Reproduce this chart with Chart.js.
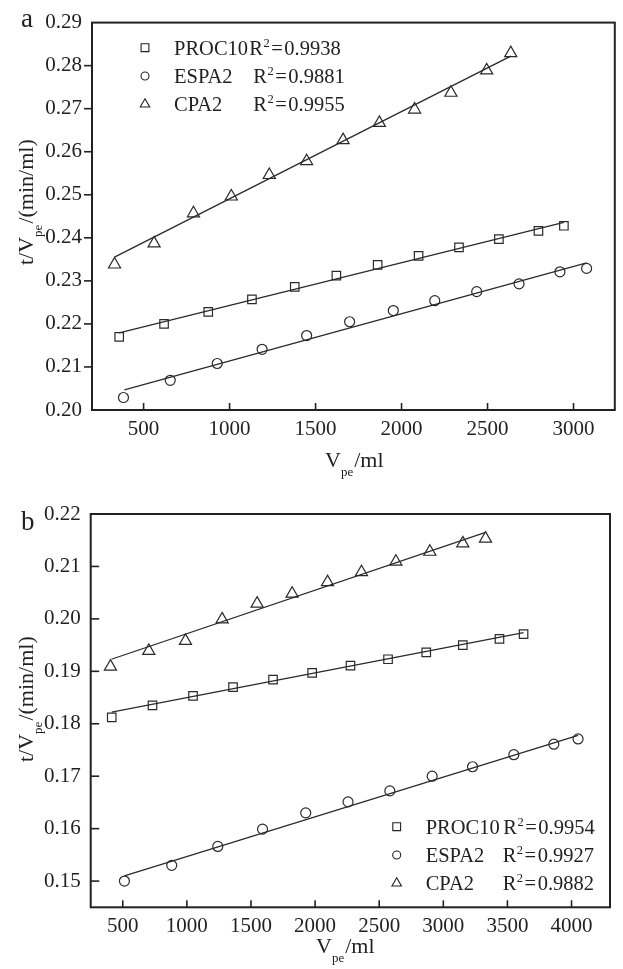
<!DOCTYPE html>
<html><head><meta charset="utf-8">
<script src="https://cdn.jsdelivr.net/npm/chart.js@4.4.1/dist/chart.umd.min.js"></script>
<style>
html,body{margin:0;padding:0;background:#fff;}
#wrap{position:relative;width:623px;height:969px;overflow:hidden;background:#fff;}
canvas{position:absolute;left:0;}
#ca{top:0;} #cb{top:485px;}
</style></head><body>
<div id="wrap"><canvas id="ca" width="623" height="485"></canvas><canvas id="cb" width="623" height="484"></canvas></div>
<script>
// ---------- Panel a data ----------
const procA_x = [358, 619, 876, 1130, 1379, 1621, 1861, 2099, 2334, 2566, 2796, 2944];
const procA_y = [0.2170, 0.2200, 0.2228, 0.2257, 0.2286, 0.2312, 0.2337, 0.2358, 0.2378, 0.2397, 0.2416, 0.2428];
const espaA_x = [383, 655, 928, 1189, 1448, 1698, 1952, 2193, 2437, 2683, 2921, 3076];
const espaA_y = [0.2029, 0.2069, 0.2108, 0.2141, 0.2173, 0.2205, 0.2231, 0.2254, 0.2275, 0.2293, 0.2321, 0.2329];
const cpaA_x = [331, 561, 790, 1010, 1231, 1448, 1660, 1871, 2076, 2287, 2495, 2635];
const cpaA_y = [0.2338, 0.2387, 0.2457, 0.2496, 0.2546, 0.2578, 0.2627, 0.2667, 0.2698, 0.2737, 0.2789, 0.2829];
const procA_fitX = [358, 2944], procA_fitY = [0.2179, 0.2436];
const espaA_fitX = [388, 3076], espaA_fitY = [0.2047, 0.2342];
const cpaA_fitX = [331, 2635], cpaA_fitY = [0.2355, 0.2822];
const xTicksA = [500, 1000, 1500, 2000, 2500, 3000];
const yTicksA = [0.20, 0.21, 0.22, 0.23, 0.24, 0.25, 0.26, 0.27, 0.28, 0.29];
const r2A = ['0.9938', '0.9881', '0.9955'];

// ---------- Panel b data ----------
const procB_x = [414, 732, 1048, 1360, 1672, 1977, 2276, 2569, 2867, 3152, 3438, 3626];
const procB_y = [0.1812, 0.1835, 0.1853, 0.1870, 0.1884, 0.1897, 0.1911, 0.1923, 0.1936, 0.1950, 0.1962, 0.1971];
const espaB_x = [513, 882, 1241, 1590, 1927, 2257, 2583, 2913, 3228, 3550, 3862, 4051];
const espaB_y = [0.1500, 0.1530, 0.1566, 0.1599, 0.1630, 0.1651, 0.1672, 0.1700, 0.1718, 0.1741, 0.1761, 0.1771];
const cpaB_x = [404, 703, 989, 1275, 1548, 1821, 2097, 2362, 2630, 2895, 3152, 3329];
const cpaB_y = [0.1909, 0.1939, 0.1958, 0.1999, 0.2029, 0.2048, 0.2070, 0.2089, 0.2109, 0.2128, 0.2144, 0.2153];
const procB_fitX = [414, 3626], procB_fitY = [0.1822, 0.1974];
const espaB_fitX = [513, 4051], espaB_fitY = [0.1510, 0.1778];
const cpaB_fitX = [412, 3329], cpaB_fitY = [0.1923, 0.2165];
const xTicksB = [500, 1000, 1500, 2000, 2500, 3000, 3500, 4000];
const yTicksB = [0.15, 0.16, 0.17, 0.18, 0.19, 0.20, 0.21, 0.22];
const r2B = ['0.9954', '0.9927', '0.9882'];

const seriesNames = ['PROC10', 'ESPA2', 'CPA2'];
const seriesStyles = ['rect', 'circle', 'triangle'];

// ---------- helpers ----------
const FONT = '"Liberation Serif", "Times New Roman", serif';
const INK = '#222';
const zip = (xs, ys) => xs.map((x, i) => ({x: x, y: ys[i]}));

function pointsDs(xs, ys, style, r) {
  return {type: 'scatter', data: zip(xs, ys), pointStyle: style, pointRadius: r, pointHoverRadius: r,
    borderColor: '#2a2a2a', backgroundColor: 'rgba(0,0,0,0)', pointBorderWidth: 1.2, showLine: false};
}
function fitDs(xs, ys) {
  return {type: 'line', data: zip(xs, ys), borderColor: '#2a2a2a', borderWidth: 1.3, pointRadius: 0, fill: false, tension: 0};
}

function drawR2(ctx, x, y, val) {
  ctx.font = '20.5px ' + FONT;
  ctx.fillText('R', x, y);
  let w = ctx.measureText('R').width;
  ctx.font = '12.5px ' + FONT;
  ctx.fillText('2', x + w + 0.5, y - 8);
  let w2 = ctx.measureText('2').width;
  ctx.font = '20.5px ' + FONT;
  let ex = x + w + w2 + 2;
  ctx.fillText('=', ex, y);
  let we = ctx.measureText('=').width;
  ctx.fillText(val, ex + we + 1.5, y);
}

function makeDeco(cfg) {
  return {
    id: 'deco' + cfg.key,
    afterDraw(chart) {
      const ctx = chart.ctx, a = chart.chartArea;
      const xs = chart.scales.x, ys = chart.scales.y;
      ctx.save();
      ctx.strokeStyle = INK; ctx.fillStyle = INK;
      ctx.lineWidth = 2;
      ctx.strokeRect(a.left, a.top, a.right - a.left, a.bottom - a.top);
      ctx.lineWidth = 1.6;
      xs.ticks.forEach(t => {
        const px = xs.getPixelForValue(t.value);
        ctx.beginPath(); ctx.moveTo(px, a.bottom); ctx.lineTo(px, a.bottom - cfg.xTickLen); ctx.stroke();
      });
      ys.ticks.forEach(t => {
        const py = ys.getPixelForValue(t.value);
        if (py < a.top + 2 || py > a.bottom - 2) return;
        ctx.beginPath(); ctx.moveTo(a.left, py); ctx.lineTo(a.left + cfg.yTickDir * cfg.yTickLen, py); ctx.stroke();
      });
      // panel letter
      ctx.textBaseline = 'alphabetic'; ctx.textAlign = 'left';
      ctx.font = '27px ' + FONT;
      ctx.fillText(cfg.letter, cfg.letterX, cfg.letterY);
      // x title
      ctx.font = '22px ' + FONT;
      let x0 = cfg.xtX;
      ctx.fillText('V', x0, cfg.xtY);
      let wv = ctx.measureText('V').width;
      ctx.font = '13px ' + FONT;
      ctx.fillText('pe', x0 + wv, cfg.xtY + 9);
      let wp = ctx.measureText('pe').width;
      ctx.font = '22px ' + FONT;
      ctx.fillText('/ml', x0 + wv + wp + 1, cfg.xtY);
      // y title (rotated)
      ctx.save();
      ctx.translate(cfg.ytX, cfg.ytY);
      ctx.rotate(-Math.PI / 2);
      ctx.font = '22px ' + FONT;
      ctx.fillText('t/V', 0, 0);
      let w1 = ctx.measureText('t/V').width;
      ctx.font = '13px ' + FONT;
      ctx.fillText('pe', w1, 9);
      let w2 = ctx.measureText('pe').width;
      ctx.font = '22px ' + FONT;
      ctx.fillText('/(min/ml)', w1 + w2 + 1, 0);
      ctx.restore();
      // legend
      for (let i = 0; i < 3; i++) {
        const cy = cfg.legRows[i];
        ctx.save();
        ctx.fillStyle = 'rgba(0,0,0,0)';
        ctx.strokeStyle = INK;
        ctx.lineWidth = 1.1;
        Chart.helpers.drawPoint(ctx, {pointStyle: seriesStyles[i], radius: cfg.legR[i], borderWidth: 1.1, rotation: 0}, cfg.legMX, cy);
        ctx.restore();
        ctx.fillStyle = INK;
        ctx.font = '20.5px ' + FONT;
        ctx.fillText(seriesNames[i], cfg.legTX, cy + 7);
        drawR2(ctx, cfg.legRX[i], cy + 7, cfg.r2[i]);
      }
      ctx.restore();
    }
  };
}

function makeChart(id, o) {
  return new Chart(document.getElementById(id), {
    type: 'scatter',
    data: {datasets: o.datasets},
    options: {
      responsive: false, animation: false, devicePixelRatio: 1,
      layout: {padding: o.padding},
      plugins: {legend: {display: false}, tooltip: {enabled: false}},
      scales: {
        x: {type: 'linear', min: o.xmin, max: o.xmax,
          afterBuildTicks: s => { s.ticks = o.xTicks.map(v => ({value: v})); },
          afterFit: s => { s.height = o.xAxisH; },
          grid: {display: false, drawTicks: false}, border: {display: false},
          ticks: {font: {family: FONT, size: 21}, color: INK, padding: o.xPad, maxRotation: 0, autoSkip: false,
            callback: v => String(v)}},
        y: {type: 'linear', min: o.ymin, max: o.ymax,
          afterBuildTicks: s => { s.ticks = o.yTicks.map(v => ({value: v})); },
          afterFit: s => { s.width = o.yAxisW; },
          grid: {display: false, drawTicks: false}, border: {display: false},
          ticks: {font: {family: FONT, size: 21}, color: INK, padding: 10, autoSkip: false,
            callback: v => Number(v).toFixed(2)}}
      }
    },
    plugins: [makeDeco(o.deco)]
  });
}

makeChart('ca', {
  datasets: [
    fitDs(procA_fitX, procA_fitY), fitDs(espaA_fitX, espaA_fitY), fitDs(cpaA_fitX, cpaA_fitY),
    pointsDs(procA_x, procA_y, 'rect', 6), pointsDs(espaA_x, espaA_y, 'circle', 5), pointsDs(cpaA_x, cpaA_y, 'triangle', 7)
  ],
  xmin: 200, xmax: 3240, ymin: 0.20, ymax: 0.29,
  xTicks: xTicksA, yTicks: yTicksA,
  padding: {top: 17.5, right: 3.5, left: 0, bottom: 0},
  xAxisH: 75, yAxisW: 92, xPad: 7,
  deco: {key: 'a', xTickLen: 7, yTickDir: -1, yTickLen: 8, letter: 'a', letterX: 21, letterY: 27,
    xtX: 325, xtY: 467, ytX: 33, ytY: 265,
    legRows: [47.7, 76, 104.3], legMX: 145, legTX: 174, legRX: [249.3, 253.3, 253.3], legR: [5.5, 4, 5.5], r2: r2A}
});

makeChart('cb', {
  datasets: [
    fitDs(procB_fitX, procB_fitY), fitDs(espaB_fitX, espaB_fitY), fitDs(cpaB_fitX, cpaB_fitY),
    pointsDs(procB_x, procB_y, 'rect', 6), pointsDs(espaB_x, espaB_y, 'circle', 5), pointsDs(cpaB_x, cpaB_y, 'triangle', 7)
  ],
  xmin: 250, xmax: 4300, ymin: 0.145, ymax: 0.22,
  xTicks: xTicksB, yTicks: yTicksB,
  padding: {top: 29, right: 13, left: 0, bottom: 0},
  xAxisH: 61.7, yAxisW: 90.7, xPad: 7,
  deco: {key: 'b', xTickLen: 7, yTickDir: 1, yTickLen: 8.5, letter: 'b', letterX: 21, letterY: 45,
    xtX: 316, xtY: 468, ytX: 33, ytY: 277,
    legRows: [341.7, 370, 398.3], legMX: 396.7, legTX: 425.7, legRX: [503.3, 502.7, 502.7], legR: [5.5, 4, 5.5], r2: r2B}
});
</script>
</body></html>
